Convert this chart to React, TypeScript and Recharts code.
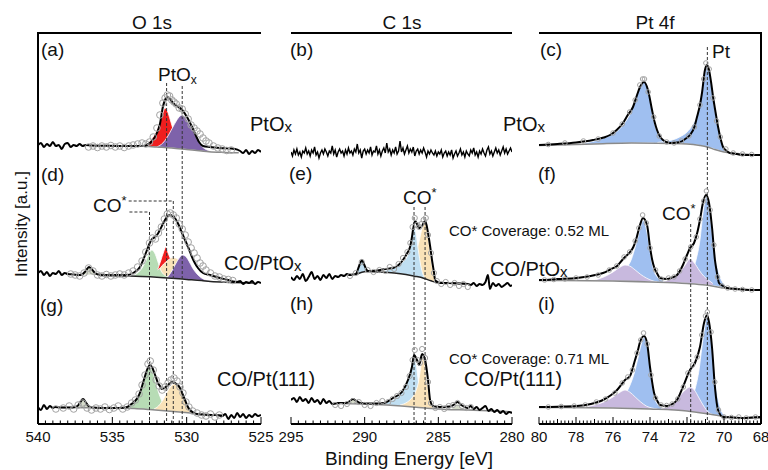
import React from "react";
import { ComposedChart, Area, Line, Scatter, XAxis, YAxis, ReferenceLine } from "recharts";

type P = [number, number];
type B = [number, number, number];

// ---------- O 1s ----------
const aFit: P[] = [[540,10],[539.8,12],[539.6,8],[539.4,11],[539.2,9],[539,13],[538.8,9],[538.6,10],[538.4,6],[538.2,11],[538,12],[537.8,8],[537.6,10],[537.4,9],[537.2,11],[537,9],[536.8,10],[536.4,9.5],[535.5,9.2],[534.5,9],[533.5,9],[532.94,9],[532.67,10],[532.33,14],[532,22],[531.8,31],[531.6,48],[531.46,55],[531.33,58],[531.12,56],[530.92,52],[530.65,49],[530.3,45],[529.98,38],[529.64,28],[529.37,19],[529.17,13],[528.9,9],[528.43,8],[527.76,7],[526.75,6],[526.4,4],[526.2,2],[526,5],[525.8,1],[525.6,4],[525.4,2],[525.2,5],[525,3]];
const aBg: P[] = [[533.5,9.3],[533,9],[532,8],[531,7],[530,5.5],[529,4],[528.5,3.3],[527.5,2.6],[526.5,2.2]];
const aRed: B[] = [[532.9,8.9,8.9],[532.6,8.6,12],[532.3,8.3,17],[532,8,25],[531.8,7.8,33],[531.6,7.6,42],[531.45,7.45,47],[531.3,7.3,44],[531.1,7.1,35],[530.9,6.85,25],[530.6,6.4,14],[530.3,5.95,8.5],[530,5.5,6]];
const aLatt: B[] = [[532,8,8.2],[531.6,7.6,12],[531.3,7.3,18],[531,7,26],[530.7,6.55,34],[530.45,6.2,39],[530.3,5.95,40],[530.1,5.65,38],[529.9,5.35,33],[529.6,4.9,25],[529.3,4.45,16],[529,4,9],[528.7,3.6,5.5],[528.4,3.2,3.8]];
const aDots: P[] = [[536.6,8],[536.3,9],[536,7.5],[535.7,9],[535.4,8],[535.1,9.5],[534.8,8],[534.5,9],[534.2,7.5],[533.9,9],[533.6,10],[533.3,11],[533,12],[532.75,11],[532.5,13],[532.25,18],[532,27],[531.8,40],[531.6,52],[531.45,57],[531.3,60],[531.15,59],[531,55],[530.85,53],[530.7,51],[530.5,47],[530.3,46],[530.1,41],[529.9,36],[529.7,30],[529.5,27],[529.3,24],[529.1,21],[528.9,17],[528.7,14],[528.5,12],[528.2,9],[527.9,7],[527.6,6],[527.3,4.5],[527,5]];

const dFit: P[] = [[540,12],[539.8,14],[539.6,10],[539.4,13],[539.2,9],[539,12],[538.8,11],[538.6,14],[538.4,10],[538.2,12],[538,11],[537.6,10.5],[537.2,10],[537.04,10.5],[536.85,13],[536.7,16],[536.57,18],[536.4,16],[536.2,12.5],[535.96,10.5],[535.5,10],[534.8,10],[534.01,10],[533.61,12],[533.14,18],[532.9,26],[532.67,35],[532.45,43],[532.33,46],[532.13,48],[531.95,51],[531.8,55],[531.6,61],[531.46,65],[531.3,68.5],[531.12,70],[530.95,69],[530.79,67],[530.6,62],[530.45,57],[530.28,51],[530.11,45],[529.85,36],[529.64,28],[529.45,22],[529.24,17],[528.9,12],[528.43,10],[527.76,7],[527.2,5],[526.89,3.5],[526.6,3],[526.4,4],[526.2,1],[526,3],[525.8,2],[525.6,4],[525.4,1],[525.2,3],[525,2]];
const dBg: P[] = [[535.8,9.5],[534,9],[533,8.5],[532,7.8],[531,6.8],[530,5.6],[529,4.4],[528.4,3.4],[527,2.6],[525.5,2]];
const dBump: B[] = [[537.1,10,10.2],[536.9,10,12],[536.75,10,15],[536.57,10,18],[536.4,10,15],[536.2,9.8,12],[536,9.6,10]];
const dPeach: B[] = [[532.3,8,9],[532,7.8,13],[531.7,7.5,19],[531.4,7.2,24],[531.1,6.9,27],[530.9,6.7,27.5],[530.6,6.3,26],[530.3,6,22],[530,5.6,17],[529.7,5.2,12],[529.4,4.8,8],[529.1,4.3,5.5]];
const dGreen: B[] = [[533.6,8.8,9.2],[533.3,8.6,12],[533,8.5,17],[532.75,8.3,24],[532.55,8.1,31],[532.35,8,35],[532.15,7.9,32],[531.95,7.7,24],[531.75,7.6,15],[531.5,7.3,10],[531.2,7,8]];
const dRed: B[] = [[531.95,15,15.5],[531.75,17.5,24],[531.55,21,33],[531.4,23,38],[531.25,25,32],[531.1,26.5,26.5]];
const dLatt: B[] = [[531.3,7.1,7.6],[531,6.8,14],[530.75,6.5,21],[530.5,6.2,27],[530.3,6,30],[530.1,5.7,29],[529.85,5.4,24],[529.6,5.1,17],[529.3,4.8,11],[529,4.4,7],[528.7,3.9,5],[528.4,3.4,3.6]];
const dDots: P[] = [[537.8,11],[537.5,10],[537.2,9],[536.9,12],[536.6,17],[536.3,14],[536,10],[535.7,9],[535.4,10.5],[535.1,9],[534.8,10],[534.5,11],[534.2,10],[533.9,12],[533.6,14],[533.3,18],[533,24],[532.75,33],[532.5,42],[532.3,47],[532.1,46],[531.9,52],[531.7,58],[531.5,66],[531.3,71],[531.1,72],[530.9,70],[530.7,67],[530.5,61],[530.3,56],[530.1,50],[529.9,43],[529.7,37],[529.5,32],[529.3,27],[529.1,22],[528.9,19],[528.7,15],[528.4,12],[528.1,9],[527.8,8],[527.5,6],[527.2,5.5],[526.9,4.5]];

const gFit: P[] = [[540,13],[539.8,10],[539.6,15],[539.4,11],[539.2,14],[539,12],[538.86,13],[538.5,12.5],[537.7,12.5],[537.35,14],[537.15,18],[536.97,21],[536.8,18],[536.6,14],[536.3,12.5],[535.5,12],[534.5,12],[534,13],[533.81,15],[533.5,18.5],[533.27,23],[533.1,29],[532.94,37],[532.8,44],[532.67,50],[532.47,55],[532.3,52],[532.2,48],[532.05,42],[531.93,37],[531.8,34],[531.66,31],[531.5,32],[531.32,34],[531.15,36.5],[530.99,38],[530.85,37.5],[530.79,37],[530.6,35],[530.45,32],[530.28,26],[530.11,20],[529.95,14],[529.78,10],[529.55,7.5],[529.31,6],[528.9,5.5],[528.43,5],[528,5],[527.6,4],[527.4,6],[527.2,1],[527,5],[526.8,2],[526.6,7],[526.4,3],[526.2,6],[526,2],[525.8,5],[525.6,3],[525.4,6],[525.2,4],[525,5]];
const gBg: P[] = [[538.5,12.5],[534.5,12],[533.5,11.5],[532.5,10.5],[531.5,9.3],[530.5,8],[529.5,6.6],[528.5,5.5],[527.5,5]];
const gBump: B[] = [[537.5,12.5,12.8],[537.25,12.5,16],[537,12.5,20],[536.75,12.5,16],[536.5,12.4,12.6]];
const gGreen: B[] = [[534.2,11.85,12.2],[533.8,11.65,14.5],[533.5,11.5,18],[533.2,11.2,25],[533,11,33],[532.8,10.8,43],[532.6,10.6,51],[532.47,10.47,53],[532.3,10.26,49],[532.1,10.02,39],[531.9,9.78,28],[531.7,9.54,20],[531.5,9.3,14],[531.2,8.9,10.5],[530.9,8.5,9]];
const gPeach: B[] = [[532.2,10.14,11],[531.9,9.78,14],[531.6,9.42,20],[531.35,9.1,27],[531.1,8.8,33],[530.85,8.45,36],[530.6,8.13,34],[530.4,7.86,29],[530.2,7.6,22],[530,7.3,15],[529.8,7.02,10.5],[529.5,6.6,7.5],[529.2,6.3,6.5]];
const gDots: P[] = [[538.8,11],[538.3,12],[537.9,14],[537.6,11],[537.3,15],[537,17],[536.7,12],[536.4,10],[536.1,12],[535.8,11],[535.5,13],[535.2,10.5],[534.9,12],[534.6,14],[534.3,11],[534,13],[533.7,17],[533.45,20],[533.2,26],[533,35],[532.8,45],[532.6,56],[532.45,59],[532.25,50],[532.05,40],[531.85,34],[531.65,30],[531.45,33],[531.25,37],[531.05,40],[530.85,42],[530.65,39],[530.45,33],[530.25,27],[530.05,18],[529.85,13],[529.6,9],[529.3,7],[529,5],[528.7,4],[528.4,6],[528.1,3],[527.8,5]];

// ---------- C 1s ----------
const bFit: P[] = [[295,3],[294.9,-1],[294.8,5],[294.7,1],[294.6,6],[294.5,0],[294.4,3],[294.3,-2],[294.2,4],[294.1,2],[294,7],[293.9,1],[293.8,4],[293.7,-1],[293.6,5],[293.5,2],[293.4,8],[293.3,0],[293.2,3],[293.1,-3],[293,2],[292.9,5],[292.8,1],[292.7,6],[292.6,3],[292.5,-1],[292.4,4],[292.3,2],[292.2,9],[292.1,1],[292,5],[291.9,-2],[291.8,3],[291.7,6],[291.6,2],[291.5,4],[291.4,-1],[291.3,5],[291.2,1],[291.1,7],[291,2],[290.9,4],[290.8,0],[290.7,6],[290.6,3],[290.5,11],[290.4,2],[290.3,5],[290.2,-3],[290.1,4],[290,6],[289.9,1],[289.8,5],[289.7,2],[289.6,8],[289.5,0],[289.4,4],[289.3,3],[289.2,9],[289.1,1],[289,5],[288.9,-1],[288.8,4],[288.7,7],[288.6,2],[288.5,12],[288.4,3],[288.3,6],[288.2,0],[288.1,5],[288,2],[287.9,8],[287.8,1],[287.7,4],[287.6,14],[287.5,3],[287.4,7],[287.3,1],[287.2,5],[287.1,9],[287,2],[286.9,6],[286.8,3],[286.7,8],[286.6,-1],[286.5,4],[286.4,6],[286.3,1],[286.2,5],[286.1,2],[286,7],[285.9,3],[285.8,-2],[285.7,4],[285.6,1],[285.5,5],[285.4,2],[285.3,0],[285.2,4],[285.1,-1],[285,3],[284.9,1],[284.8,5],[284.7,-2],[284.6,2],[284.5,4],[284.4,-1],[284.3,3],[284.2,0],[284.1,5],[284,-3],[283.9,1],[283.8,4],[283.7,-1],[283.6,2],[283.5,6],[283.4,0],[283.3,3],[283.2,-2],[283.1,4],[283,1],[282.9,-1],[282.8,5],[282.7,2],[282.6,7],[282.5,0],[282.4,3],[282.3,-2],[282.2,4],[282.1,1],[282,6],[281.9,2],[281.8,-1],[281.7,5],[281.6,8],[281.5,1],[281.4,4],[281.3,-1],[281.2,3],[281.1,7],[281,2],[280.9,5],[280.8,0],[280.7,4],[280.6,8],[280.5,2],[280.4,6],[280.3,1],[280.2,4],[280.1,7],[280,3]];

const eFit: P[] = [[295,8],[294.8,5],[294.6,9],[294.4,6],[294.2,11],[294,4],[293.8,8],[293.6,13],[293.4,6],[293.2,9],[293,5],[292.8,10],[292.6,7],[292.4,11],[292.2,6],[292,9],[291.8,8],[291.6,10],[291.4,9],[291.2,11],[291,10],[290.8,10.5],[290.6,11],[290.45,16],[290.3,22],[290.18,25],[290.05,21],[289.9,16],[289.77,14],[289.5,14],[289.16,14.5],[288.6,16],[288.08,17],[287.7,20],[287.4,25],[287.15,31],[286.92,38],[286.8,47],[286.72,55],[286.58,64],[286.45,61],[286.31,57],[286.2,58],[286.11,59],[286,62],[285.9,64],[285.8,60],[285.7,52],[285.55,38],[285.43,25],[285.3,13],[285.22,5],[285.05,3],[284.88,2],[284.3,2],[283.6,1.5],[283,1],[282.8,0],[282.6,2],[282.4,-1],[282.2,1],[282,0],[281.8,3],[281.63,10],[281.5,-4],[281.3,2],[281.1,-1],[280.9,1],[280.7,-2],[280.5,0],[280.3,2],[280.1,-1],[280,0]];
const eBg: P[] = [[290.6,10.5],[289.9,13.5],[289,13],[288,12],[287.2,10.5],[286.6,8.8],[286,6.8],[285.5,4.2],[285.1,2.5],[284.5,2],[283,1.2]];
const eBump: B[] = [[290.6,10.5,10.6],[290.45,11,16],[290.3,11.6,22],[290.18,12,25],[290.05,12.6,21],[289.9,13.4,16],[289.8,13.5,14]];
const ePeach: B[] = [[288.8,12.8,13.3],[288.2,12.2,15.5],[287.6,11.4,18],[287.1,10.2,22],[286.8,9.5,27],[286.5,8.5,34],[286.3,7.8,44],[286.15,7.3,54],[286,6.8,61],[285.9,6.5,63],[285.8,6,58],[285.65,5,43],[285.5,4.2,26],[285.35,3.5,13],[285.2,2.8,5],[285.05,2.4,2.6]];
const eBlue: B[] = [[288.6,12.6,14.5],[288.2,12.2,16.5],[287.8,11.7,19],[287.4,10.9,23],[287.1,10.2,29],[286.9,9.7,38],[286.75,9.3,50],[286.62,8.9,58],[286.5,8.5,50],[286.35,8,34],[286.2,7.5,20],[286.05,7,11],[285.9,6.5,7]];
const eDots: P[] = [[291,9],[290.6,12],[290.2,23],[289.8,15],[289.4,13],[289,15],[288.6,14],[288.3,18],[288,16],[287.7,21],[287.4,27],[287.1,33],[286.9,42],[286.75,58],[286.6,67],[286.45,60],[286.3,58],[286.15,61],[286,65],[285.85,67],[285.7,50],[285.5,32],[285.3,12],[285.1,4],[284.8,1],[284.5,3],[284.2,0],[283.9,2],[283.6,-1],[283.3,1],[283,-2]];

const hFit: P[] = [[295,20],[294.8,22],[294.6,18],[294.4,23],[294.2,19],[294,21],[293.8,17],[293.6,22],[293.4,18],[293.2,20],[293,16],[292.8,21],[292.6,17],[292.4,19],[292.2,16],[291.8,17],[291.3,17],[291,19],[290.8,21],[290.55,19],[290.3,17],[289.5,16.5],[288.7,17],[288.08,22],[287.47,28],[287.06,40],[286.79,53],[286.65,65],[286.45,60],[286.31,55],[286.1,66],[285.9,60],[285.7,40],[285.56,20],[285.36,14],[284.88,13],[284.2,13.5],[283.97,15],[283.7,18],[283.45,15],[283.2,13],[283,12],[282.8,14],[282.6,11],[282.4,13],[282.2,10],[282,12],[281.8,14],[281.6,9],[281.4,11],[281.2,8],[281,10],[280.8,7],[280.6,9],[280.4,6],[280.2,8],[280,7]];
const hBg: P[] = [[292,16.5],[290,16],[288.5,15],[287.5,14],[286.5,12.8],[285.5,11.5],[284.5,10.5],[283,10],[281,9],[280,8]];
const hBumpL: B[] = [[291.3,16.2,16.4],[291.05,16.2,18.5],[290.8,16.1,20.5],[290.55,16,18.5],[290.3,16,16.2]];
const hBlue: B[] = [[289,15.3,15.8],[288.5,15,18],[288,14.5,21],[287.6,14.1,26],[287.3,13.8,34],[287,13.5,44],[286.8,13.2,54],[286.65,13,62],[286.5,12.8,55],[286.35,12.6,38],[286.2,12.5,22],[286.05,12.3,14],[285.9,12.2,12.4]];
const hPeach: B[] = [[287.6,14.1,15],[287.1,13.6,18],[286.8,13.2,22],[286.55,12.9,28],[286.35,12.6,38],[286.2,12.5,52],[286.08,12.3,63],[285.95,12.2,58],[285.8,12,42],[285.65,11.7,26],[285.5,11.5,16],[285.3,11.3,12],[285.1,11.1,11.2]];
const hBumpR: B[] = [[284.2,10.4,10.6],[283.95,10.3,13],[283.7,10.2,16],[283.45,10.1,13],[283.2,10,10.2]];
const hDots: P[] = [[292,15],[291.6,14],[291.2,16],[290.8,19],[290.4,18],[290,15],[289.6,14],[289.2,17],[288.8,19],[288.4,18],[288.1,21],[287.8,24],[287.5,27],[287.2,33],[286.95,44],[286.75,60],[286.6,70],[286.4,60],[286.25,57],[286.1,71],[285.9,62],[285.7,38],[285.5,17],[285.2,12],[284.9,13],[284.6,11],[284.3,14],[284,15],[283.7,17],[283.4,14],[283.1,12],[282.8,13]];

// ---------- Pt 4f ----------
const cFit: P[] = [[80,10],[79,11],[78,12.5],[77.08,15],[76.5,17.5],[76.16,20],[75.8,25],[75.46,32],[75.2,40],[74.92,48],[74.7,60],[74.54,68],[74.32,73],[74.11,65],[73.89,45],[73.75,33],[73.62,25],[73.3,15],[72.92,12],[72.6,12.5],[72.38,13],[72.1,16],[71.84,20],[71.6,28],[71.46,38],[71.3,50],[71.19,62],[71.03,85],[70.92,90],[70.81,85],[70.7,73],[70.59,58],[70.45,42],[70.32,28],[70.18,16],[70.05,8],[69.85,4],[69.68,2],[69.3,1],[68.97,0],[68.5,0],[68,0]];
const cBg: P[] = [[80,9.5],[77,11],[75,12],[73,11.5],[72,11],[71.3,9.5],[70.9,8],[70.5,5.5],[70,3],[69.5,1.8],[69,1],[68,0]];
const cBlue1: B[] = [[77.5,10.5,12],[77,11,14],[76.5,11.2,17],[76,11.5,21],[75.5,11.7,29],[75.2,11.8,37],[75,12,44],[74.8,12,55],[74.6,12,66],[74.45,12,71],[74.32,12,73],[74.2,12,70],[74.05,12,60],[73.9,12,45],[73.75,11.8,31],[73.6,11.8,23],[73.4,11.7,17],[73.1,11.6,14],[72.7,11.5,12.5],[72.3,11.3,11.8]];
const cBlue2: B[] = [[73.6,11.8,12.5],[73.2,11.7,13.5],[72.8,11.5,15],[72.4,11.3,18],[72,11,23],[71.7,10.5,30],[71.45,10,40],[71.3,9.5,52],[71.15,9,66],[71.03,8.5,82],[70.92,8,89],[70.81,7.5,84],[70.7,7,72],[70.59,6.5,56],[70.45,5.5,40],[70.32,5,27],[70.2,4.2,17],[70.05,3.5,9],[69.9,3,5],[69.7,2.2,2.5],[69.5,1.8,1.9]];
const cDots: P[] = [[79.5,10.5],[78.6,12],[77.6,14],[76.8,16],[76,22],[75.5,31],[75.1,43],[74.8,55],[74.55,70],[74.4,76],[74.3,76],[74.1,63],[73.8,38],[73.5,19],[73.1,13],[72.7,12],[72.3,14],[71.9,19],[71.6,28],[71.3,50],[71.1,76],[70.98,92],[70.8,86],[70.6,57],[70.4,34],[70.2,18],[69.9,6],[69.5,2],[69,1],[68.5,0.5]];

const fFit: P[] = [[80,5],[79.84,5],[79,6],[77.95,7],[77.2,9],[76.54,12],[76.1,16],[75.78,19],[75.5,25],[75.35,28],[75.08,33],[74.9,38],[74.76,45],[74.54,60],[74.38,67],[74.16,60],[74,38],[73.88,25],[73.78,18],[73.6,11],[73.46,7],[73.08,6],[72.8,7.5],[72.54,10],[72.22,20],[72,30],[71.84,37],[71.62,42],[71.45,52],[71.3,65],[71.14,82],[70.97,90],[70.81,82],[70.65,58],[70.49,25],[70.38,12],[70.27,2],[70.05,-1],[69.84,-3],[69.3,-4],[68.6,-5],[68,-5]];
const fBg: P[] = [[80,4.5],[76,4],[74,3],[72,1.5],[71,0],[70,-3],[69,-4.5],[68,-5]];
const fBlue1: B[] = [[75.6,3.9,8],[75.3,3.8,16],[75,3.7,26],[74.8,3.6,38],[74.6,3.5,52],[74.45,3.4,62],[74.38,3.3,65],[74.25,3.3,60],[74.1,3.2,46],[73.95,3.1,28],[73.8,3,15],[73.6,2.9,8],[73.35,2.8,5],[73,2.5,3.5]];
const fLav1: B[] = [[77,4.2,5],[76.5,4.1,8],[76,4,13],[75.6,3.9,18],[75.35,3.8,20],[75.1,3.7,19],[74.8,3.6,15],[74.5,3.4,10.5],[74.2,3.2,7],[73.9,3,4.5],[73.6,2.9,3]];
const fBlue2: B[] = [[72,1.7,6],[71.7,1.4,14],[71.5,1.1,26],[71.3,0.8,45],[71.15,0.5,70],[71.03,0.3,84],[70.97,0.2,88],[70.85,0,82],[70.7,-0.4,62],[70.55,-0.8,40],[70.4,-1.3,22],[70.25,-1.8,10],[70.05,-2.5,2],[69.85,-3,-2.5]];
const fLav2: B[] = [[73.3,2.7,3.5],[73,2.5,5],[72.7,2.3,8],[72.4,2,13],[72.1,1.8,20],[71.85,1.5,26],[71.6,1.2,22],[71.35,0.9,15],[71.1,0.5,9],[70.85,0,5],[70.6,-0.6,1.5]];
const fDots: P[] = [[79.7,5],[79.2,5.5],[78.6,6],[78,7],[77.4,8],[76.8,10],[76.2,15],[75.8,19],[75.4,28],[75.1,33],[74.8,44],[74.6,57],[74.4,70],[74.2,62],[74,37],[73.7,15],[73.4,6],[73,7],[72.7,8],[72.4,14],[72.1,26],[71.8,38],[71.5,48],[71.3,66],[71.1,84],[70.95,94],[70.75,75],[70.55,40],[70.35,8],[70.1,-1],[69.8,-3],[69.4,-4],[69,-4.5],[68.5,-5]];

const iFit: P[] = [[80,13],[79,13.3],[77.95,14],[77.2,16],[76.54,20],[76.1,25],[75.78,30],[75.35,40],[75.08,44],[74.81,60],[74.65,70],[74.54,78],[74.32,84],[74.16,77],[74,53],[73.78,27],[73.6,19],[73.46,15],[73.08,14],[72.8,16],[72.54,20],[72.22,33],[71.84,50],[71.57,57],[71.3,73],[71.08,97],[70.92,105],[70.81,98],[70.65,73],[70.49,33],[70.32,10],[70.05,3],[69.5,2.5],[68.97,2],[68.5,2.5],[68,3]];
const iBg: P[] = [[80,12.5],[76,12],[74,11],[72,9],[71,6.5],[70,3.5],[69,2],[68,2]];
const iBlue1: B[] = [[75.7,11.8,17],[75.4,11.7,24],[75.1,11.6,34],[74.85,11.4,47],[74.65,11.3,62],[74.47,11.2,76],[74.32,11.1,83],[74.2,11,78],[74.05,10.9,60],[73.9,10.8,38],[73.75,10.7,22],[73.55,10.6,15],[73.3,10.4,12],[73,10.1,11]];
const iLav1: B[] = [[77.5,12.2,13],[77,12.1,15],[76.5,12,18],[76,11.9,23],[75.6,11.8,28],[75.35,11.7,30],[75.1,11.6,28],[74.8,11.4,23],[74.5,11.2,18],[74.2,11,14],[73.9,10.8,12],[73.6,10.6,11]];
const iBlue2: B[] = [[72.1,9,13],[71.8,8.4,20],[71.55,7.9,32],[71.35,7.4,50],[71.2,7,72],[71.05,6.7,92],[70.93,6.4,103],[70.8,6,96],[70.65,5.6,72],[70.5,5.1,45],[70.35,4.6,24],[70.2,4.2,12],[70,3.5,5],[69.8,3,3]];
const iLav2: B[] = [[73.4,10.5,11.5],[73,10.1,14],[72.7,9.8,18],[72.4,9.4,24],[72.1,9,30],[71.84,8.5,33],[71.6,8,30],[71.35,7.4,22],[71.1,6.8,14],[70.85,6,8],[70.6,5.2,5.5]];
const iDots: P[] = [[79.5,13],[78.8,13.5],[78.1,14],[77.5,15],[76.9,18],[76.4,21],[75.9,27],[75.5,37],[75.2,43],[74.95,50],[74.7,67],[74.5,80],[74.35,87],[74.15,76],[73.95,45],[73.7,22],[73.4,15],[73.1,14.5],[72.8,16],[72.5,21],[72.2,33],[71.95,47],[71.7,55],[71.45,63],[71.2,85],[71,104],[70.9,108],[70.7,88],[70.5,38],[70.3,10],[70,3],[69.6,2.5],[69.2,3],[68.8,2],[68.3,3]];

// axis tick labels
const O_TICKS = [540, 535, 530, 525];
const C_TICKS = [295, 290, 285, 280];
const PT_TICKS = [80, 78, 76, 74, 72, 70, 68];

// peak markers: energy, top of dashed line (px above the axis)
const O_MARKS = [{ e: 532.5, top: 212 }, { e: 531.35, top: 341 }, { e: 530.9, top: 223 }, { e: 530.3, top: 338 }];
const O_BRACKETS = [{ from: 533.85, to: 532.5, y: 212 }, { from: 533.9, to: 530.9, y: 223 }];
const C_MARKS = [{ e: 286.65, top: 217 }, { e: 285.9, top: 217 }];
const PT_MARKS = [{ e: 71.8, top: 200 }, { e: 70.9, top: 377 }];

const PURPLE_O = "#7e62aa";
const RED = "#f01e1e";
const GREEN = "#b7dcb5";
const PEACH = "#f9e2b8";
const GRAYBUMP = "#d6dccb";
const BLUE_C = "#c0dff2";
const BLUE_PT = "#9fbff0";
const LAV_PT = "#c8b9de";

const FONT = '"Liberation Sans", Arial, Helvetica, sans-serif';
const PLOT_TOP = 33;
const PLOT_BOTTOM = 424;
const ROW_REF = [155, 285, 420];

type Comp = { d: B[]; color: string };
type Row = { fit: P[]; noisy?: boolean; bg?: P[]; bgColor?: string; dots?: P[]; comps: Comp[] };

const pts = (a: P[]) => a.map(([x, y]) => ({ x, y }));
const band = (a: B[]) => a.map(([x, lo, hi]) => ({ x, v: [lo, hi] }));

function makeTicks(lo: number, hi: number, step: number) {
  const out: number[] = [];
  const n = Math.round((hi - lo) / step);
  for (let i = 0; i <= n; i++) out.push(Math.round((lo + i * step) * 100) / 100);
  return out;
}

function AxisTick(props: any) {
  const { x, y, payload, majors, mid } = props;
  const v = payload.value;
  const isMajor = majors.some((m: number) => Math.abs(m - v) < 1e-6);
  const isMid = mid ? Math.abs(v / mid - Math.round(v / mid)) < 1e-6 : false;
  const len = isMajor ? 7 : isMid ? 5 : 3.5;
  return (
    <g>
      <line x1={x} x2={x} y1={y} y2={y - len} stroke="#000" strokeWidth={1} />
      {isMajor && (
        <text x={x} y={y + 18} textAnchor="middle" fontSize={15} fontFamily={FONT} fill="#111">
          {v}
        </text>
      )}
    </g>
  );
}

function series(row: Row, id: string, dotR: number) {
  const out: React.ReactNode[] = [];
  row.comps.forEach((c, i) =>
    out.push(
      <Area key={id + "c" + i} yAxisId={id} data={band(c.d)} dataKey="v" type="monotone" fill={c.color} fillOpacity={1}
        stroke="#ffffff" strokeWidth={0.8} isAnimationActive={false} />
    )
  );
  if (row.bg)
    out.push(
      <Line key={id + "bg"} yAxisId={id} data={pts(row.bg)} dataKey="y" type="monotone" stroke={row.bgColor ?? "#8a8a8a"}
        strokeWidth={1.5} dot={false} isAnimationActive={false} />
    );
  if (row.dots)
    out.push(
      <Scatter key={id + "d"} yAxisId={id} data={pts(row.dots)} isAnimationActive={false}
        shape={(p: any) => <circle cx={p.cx} cy={p.cy} r={dotR} fill="none" stroke="#a3a3a3" strokeWidth={1} />} />
    );
  out.push(
    <Line key={id + "f"} yAxisId={id} data={pts(row.fit)} dataKey="y" type={row.noisy ? "linear" : "monotone"} stroke="#000"
      strokeWidth={row.noisy ? 1.4 : 2} dot={false} isAnimationActive={false} />
  );
  return out;
}

type Col = {
  left: number; width: number; domain: [number, number]; majors: number[]; step: number; mid?: number;
  rows: Row[]; marks: { e: number; top: number }[]; brackets?: { from: number; to: number; y: number }[]; dotR: number;
};

function Column({ col }: { col: Col }) {
  const ticks = makeTicks(col.domain[0], col.domain[1], col.step);
  return (
    <div style={{ position: "absolute", left: col.left - 20, top: 0 }}>
      <ComposedChart width={col.width + 40} height={470} margin={{ top: PLOT_TOP, right: 20, bottom: 470 - PLOT_BOTTOM - 25, left: 20 }}>
        <XAxis type="number" dataKey="x" domain={col.domain} reversed allowDataOverflow ticks={ticks} interval={0}
          tickSize={0} tickMargin={0} tickLine={false} height={25} axisLine={{ stroke: "#000", strokeWidth: 2 }}
          tick={(p: any) => <AxisTick {...p} majors={col.majors} mid={col.mid} />} />
        <YAxis yAxisId="frame" hide type="number" domain={[0, PLOT_BOTTOM - PLOT_TOP]} allowDataOverflow />
        {ROW_REF.map((r, i) => (
          <YAxis key={i} yAxisId={"r" + i} hide type="number" dataKey="y" allowDataOverflow
            domain={[-(PLOT_BOTTOM - r), r - PLOT_TOP]} />
        ))}
        {col.rows.map((row, i) => series(row, "r" + i, col.dotR))}
        {col.marks.map((m, i) => (
          <ReferenceLine key={"m" + i} yAxisId="frame" ifOverflow="visible" stroke="#333" strokeWidth={1} strokeDasharray="3 2"
            segment={[{ x: m.e, y: m.top }, { x: m.e, y: 0 }]} />
        ))}
        {(col.brackets ?? []).map((b, i) => (
          <ReferenceLine key={"b" + i} yAxisId="frame" ifOverflow="visible" stroke="#333" strokeWidth={1} strokeDasharray="3 2"
            segment={[{ x: b.from, y: b.y }, { x: b.to, y: b.y }]} />
        ))}
      </ComposedChart>
    </div>
  );
}

const COLS: Col[] = [
  {
    left: 38, width: 223, domain: [525, 540], majors: O_TICKS, step: 0.5, dotR: 3.3, marks: O_MARKS, brackets: O_BRACKETS,
    rows: [
      { fit: aFit, bg: aBg, dots: aDots, comps: [{ d: aRed, color: RED }, { d: aLatt, color: PURPLE_O }] },
      { fit: dFit, bg: dBg, bgColor: "#222", dots: dDots, comps: [{ d: dBump, color: GRAYBUMP }, { d: dPeach, color: PEACH }, { d: dGreen, color: GREEN }, { d: dRed, color: RED }, { d: dLatt, color: PURPLE_O }] },
      { fit: gFit, bg: gBg, dots: gDots, comps: [{ d: gBump, color: GRAYBUMP }, { d: gGreen, color: GREEN }, { d: gPeach, color: PEACH }] },
    ],
  },
  {
    left: 291, width: 221, domain: [280, 295], majors: C_TICKS, step: 0.5, dotR: 2.6, marks: C_MARKS,
    rows: [
      { fit: bFit, noisy: true, comps: [] },
      { fit: eFit, bg: eBg, bgColor: "#222", dots: eDots, comps: [{ d: eBump, color: BLUE_C }, { d: ePeach, color: PEACH }, { d: eBlue, color: BLUE_C }] },
      { fit: hFit, bg: hBg, dots: hDots, comps: [{ d: hBumpL, color: GRAYBUMP }, { d: hBlue, color: BLUE_C }, { d: hPeach, color: PEACH }, { d: hBumpR, color: GRAYBUMP }] },
    ],
  },
  {
    left: 539, width: 222, domain: [68, 80], majors: PT_TICKS, step: 0.2, mid: 1, dotR: 2.3, marks: PT_MARKS,
    rows: [
      { fit: cFit, bg: cBg, dots: cDots, comps: [{ d: cBlue1, color: BLUE_PT }, { d: cBlue2, color: BLUE_PT }] },
      { fit: fFit, bg: fBg, dots: fDots, comps: [{ d: fBlue1, color: BLUE_PT }, { d: fLav1, color: LAV_PT }, { d: fBlue2, color: BLUE_PT }, { d: fLav2, color: LAV_PT }] },
      { fit: iFit, bg: iBg, dots: iDots, comps: [{ d: iBlue1, color: BLUE_PT }, { d: iLav1, color: LAV_PT }, { d: iBlue2, color: BLUE_PT }, { d: iLav2, color: LAV_PT }] },
    ],
  },
];

const Sub = ({ children, size = 13, dy = 3 }: any) => <tspan fontSize={size} dy={dy}>{children}</tspan>;

function Overlay() {
  const t = { fontFamily: FONT, fill: "#111" };
  return (
    <svg width={768} height={470} style={{ position: "absolute", left: 0, top: 0, pointerEvents: "none" }}>
      <g stroke="#000" strokeWidth={2} fill="none">
        <polyline points={`38,${PLOT_BOTTOM} 38,${PLOT_TOP} 261,${PLOT_TOP}`} />
        <line x1={291} x2={512} y1={PLOT_TOP} y2={PLOT_TOP} />
        <polyline points={`539,${PLOT_TOP} 761,${PLOT_TOP} 761,${PLOT_BOTTOM}`} />
      </g>
      <g {...t} fontSize={19} textAnchor="middle">
        <text x={152} y={29}>O 1s</text>
        <text x={402} y={29}>C 1s</text>
        <text x={655} y={29}>Pt 4f</text>
        <text x={409} y={465}>Binding Energy [eV]</text>
      </g>
      <text {...t} fontSize={17} textAnchor="middle" transform="translate(27,224) rotate(-90)">Intensity [a.u.]</text>
      <g {...t} fontSize={19}>
        <text x={41} y={56}>(a)</text>
        <text x={290} y={56}>(b)</text>
        <text x={540} y={56}>(c)</text>
        <text x={41} y={181}>(d)</text>
        <text x={289} y={180}>(e)</text>
        <text x={538} y={180}>(f)</text>
        <text x={40} y={312}>(g)</text>
        <text x={290} y={310}>(h)</text>
        <text x={538} y={310}>(i)</text>
        <text x={158} y={81}>PtO<Sub size={12}>x</Sub></text>
        <text x={712} y={58}>Pt</text>
        <text x={93} y={212}>CO<Sub size={13} dy={-7}>*</Sub></text>
        <text x={403} y={204}>CO<Sub size={13} dy={-7}>*</Sub></text>
        <text x={662} y={220}>CO<Sub size={13} dy={-7}>*</Sub></text>
      </g>
      <g {...t} fontSize={20}>
        <text x={250} y={131}>PtO<Sub size={15} dy={1}>x</Sub></text>
        <text x={503} y={131}>PtO<Sub size={15} dy={1}>x</Sub></text>
        <text x={224} y={270}>CO/PtO<Sub size={15} dy={1}>x</Sub></text>
        <text x={490} y={276}>CO/PtO<Sub size={15} dy={1}>x</Sub></text>
        <text x={217} y={386}>CO/Pt(111)</text>
        <text x={464} y={386}>CO/Pt(111)</text>
      </g>
      <g {...t} fontSize={15}>
        <text x={449} y={236}>CO* Coverage: 0.52 ML</text>
        <text x={449} y={364}>CO* Coverage: 0.71 ML</text>
      </g>
    </svg>
  );
}

export default function App() {
  return (
    <div style={{ position: "absolute", left: 0, top: 0, width: 768, height: 470, background: "#fff", fontFamily: FONT }}>
      {COLS.map((c, i) => (
        <Column key={i} col={c} />
      ))}
      <Overlay />
    </div>
  );
}
